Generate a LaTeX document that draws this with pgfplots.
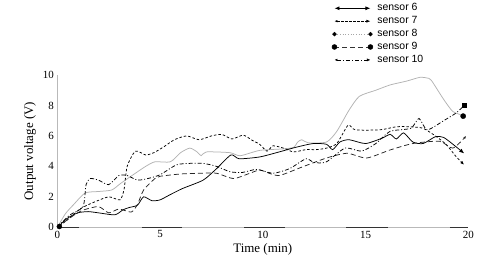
\documentclass[border=0pt]{standalone}
\usepackage{fontspec}
\setmainfont{Liberation Serif}
\setsansfont{Liberation Sans}
\usepackage{pgfplots}
\pgfplotsset{compat=1.18}
\usetikzlibrary{arrows.meta}
\begin{document}
\begin{tikzpicture}
\useasboundingbox (-57.3bp,-51.7bp) rectangle (422.7bp,227.3bp);
\begin{axis}[
  scale only axis, width=411bp, height=152.3bp,
  xmin=0, xmax=20, ymin=0, ymax=10,
  axis x line*=bottom, axis y line*=left,
  axis line style={gray!55, line width=0.6bp, -},
  xtick={0,5,10,15,20}, ytick={0,2,4,6,8,10},
  major tick length=0pt,
  tick label style={font=\fontsize{11}{12}\selectfont},
  /pgf/number format/assume math mode=true,
  xlabel={Time (min)}, ylabel={Output voltage (V)},
  label style={font=\fontsize{13}{15}\selectfont},
  xlabel style={yshift=2bp},
  clip=false,
  legend cell align=left,
  legend style={at={(rel axis cs:0.66,1.4925)}, anchor=north west, draw=none, fill=none,
    font=\sffamily\fontsize{10.5}{11}\selectfont, row sep=0.7bp,
    /tikz/every odd column/.append style={column sep=3bp},
    nodes={inner sep=1.2bp, text height=7.5bp, text depth=2.3bp}},
]
% legend
\addlegendimage{legend image code/.code={\draw[black, line width=0.8bp, {Latex[length=5bp,width=4bp]}-{Latex[length=5bp,width=4bp]}] (0bp,0bp) -- (36bp,0bp);}}
\addlegendentry{sensor 6}
\addlegendimage{legend image code/.code={\draw[black, line width=0.6bp, dash pattern=on 2.5bp off 1.5bp, {Latex[length=3bp,width=2.5bp]}-{Latex[length=4bp,width=3bp]}] (0bp,0bp) -- (36bp,0bp);}}
\addlegendentry{sensor 7}
\addlegendimage{legend image code/.code={\draw[gray!70, line width=0.7bp, dotted] (0bp,0bp) -- (36bp,0bp);
  \fill[black] (0bp,0bp) +(-2bp,0) -- +(0,2bp) -- +(2bp,0) -- +(0,-2bp) -- cycle;
  \fill[black] (36bp,0bp) +(-2bp,0) -- +(0,2bp) -- +(2bp,0) -- +(0,-2bp) -- cycle;}}
\addlegendentry{sensor 8}
\addlegendimage{legend image code/.code={\draw[black!80, line width=0.7bp, dash pattern=on 5bp off 3bp] (0bp,0bp) -- (36bp,0bp);
  \fill[black] (0bp,0bp) circle (2.5bp); \fill[black] (36bp,0bp) circle (2.5bp);}}
\addlegendentry{sensor 9}
\addlegendimage{legend image code/.code={\draw[black, line width=0.6bp, dash pattern=on 4bp off 2bp on 1bp off 2bp, {Latex[length=3bp,width=2.5bp]}-{Latex[length=3.5bp,width=3bp]}] (0bp,0bp) -- (36bp,0bp);}}
\addlegendentry{sensor 10}

% sensor 8 (gray)
\addplot[forget plot, gray!60, line width=0.75bp, smooth, tension=0.4] coordinates {
(0,0) (0.4,0.9) (0.8,1.5) (1.35,2.25) (2.0,2.35) (2.65,2.45) (3.1,2.9) (3.8,3.55) (4.3,4.0) (4.75,4.3) (5.5,4.3) (6.0,4.9) (6.45,5.2) (6.8,4.95) (7.0,4.7) (7.25,4.95) (8.4,4.9) (8.9,4.7) (9.85,5.05) (11.0,5.15) (11.5,5.25) (11.7,5.6) (11.9,5.75) (12.2,5.55) (13.1,5.6) (13.6,6.3) (14.2,7.7) (14.7,8.6) (15.5,9.0) (16.2,9.35) (17.0,9.6) (17.65,9.85) (18.0,9.8) (18.2,9.65) (18.8,8.4) (19.25,7.6) (19.75,7.35)};
\addplot[forget plot, only marks, mark=*, mark size=2.6bp, black] coordinates {(19.75,7.3)};

% sensor 6 (solid)
\addplot[forget plot, black, line width=0.75bp, smooth, tension=0.4, {Latex[length=4bp,width=3bp]}-{Latex[length=5bp,width=4bp]}] coordinates {
(0,0) (0.5,0.6) (1.0,0.95) (1.5,1.03) (2.0,0.95) (2.8,0.82) (3.2,1.15) (3.5,1.3) (3.9,1.45) (4.2,2.0) (4.6,1.75) (5.0,1.8) (5.5,2.15) (6.1,2.55) (7.1,3.1) (7.75,3.85) (8.45,4.75) (8.85,4.5) (9.85,4.62) (10.8,4.95) (11.6,5.25) (12.45,5.5) (13.1,5.45) (13.4,5.1) (13.75,5.6) (14.2,5.75) (15.0,5.5) (15.8,5.85) (16.2,6.1) (16.5,5.8) (16.85,6.2) (17.3,5.6) (17.8,5.5) (18.4,5.95) (18.8,5.9) (19.3,5.4) (19.8,4.85)};

% sensor 7 (short dashes)
\addplot[forget plot, black, line width=0.75bp, dash pattern=on 2.5bp off 2bp, smooth, tension=0.4, {Latex[length=3bp,width=2.5bp]}-{Latex[length=4bp,width=3bp]}] coordinates {
(0,0) (0.5,0.5) (1.1,1.2) (1.7,1.6) (2.5,2.0) (3.05,1.8) (3.25,2.5) (3.4,4.0) (3.8,5.0) (4.3,4.75) (4.7,4.9) (5.2,5.3) (5.7,5.75) (6.3,6.0) (6.9,5.75) (7.5,6.0) (8.0,6.1) (8.5,5.8) (9.05,6.05) (9.5,5.7) (9.85,5.45) (10.2,5.0) (10.5,5.35) (11.0,5.2) (11.5,4.95) (12.1,5.1) (12.6,5.1) (13.1,5.2) (13.6,5.5) (14.15,6.7) (14.5,6.4) (15.7,6.4) (16.5,6.6) (17.15,6.6) (17.8,6.5) (18.45,5.95) (18.95,5.4) (19.4,4.65) (19.8,4.1)};

% sensor 9 (long dashes)
\addplot[forget plot, black!85, line width=0.75bp, dash pattern=on 5bp off 3bp, smooth, tension=0.4, -{Latex[length=3bp,width=2.5bp]}] coordinates {
(0,0) (0.6,0.6) (1.2,1.1) (2.0,1.36) (2.5,0.95) (3.0,1.2) (3.6,1.0) (3.9,1.5) (4.2,2.45) (4.75,3.2) (5.0,3.35) (6.0,3.5) (6.94,3.55) (7.75,3.55) (8.57,3.2) (9.37,3.55) (9.85,3.77) (10.2,3.6) (10.8,3.4) (11.8,3.9) (13.1,4.55) (14.1,4.86) (15.05,4.55) (16.2,5.08) (17.3,5.5) (18.6,5.65) (19.25,5.2) (19.9,6.0)};

% sensor 10 (dash-dot)
\addplot[forget plot, black, line width=0.75bp, dash pattern=on 4bp off 2bp on 1bp off 2bp, smooth, tension=0.4] coordinates {
(0,0) (0.6,0.8) (1.25,1.35) (1.4,2.8) (1.6,3.2) (2.0,3.1) (2.5,2.8) (3.0,3.4) (3.4,3.4) (3.9,3.1) (4.4,3.2) (5.0,3.45) (5.8,4.1) (6.5,4.2) (7.1,4.2) (7.75,4.0) (8.4,3.65) (9.0,3.6) (9.7,3.8) (10.5,3.55) (11.3,3.85) (12.1,4.5) (12.5,4.25) (13.1,4.3) (14.0,5.2) (14.8,5.0) (15.5,5.5) (16.2,6.3) (17.2,6.5) (17.6,7.15) (18.0,6.4) (18.8,7.0) (19.4,7.5) (19.8,8.0)};
\addplot[forget plot, only marks, mark=square*, mark size=2bp, black] coordinates {(19.8,8.0)};
% start blob
\addplot[forget plot, only marks, mark=*, mark size=2.5bp, black] coordinates {(0.1,0.05)};

% dark segments on x axis line
\draw[black!80, line width=1.3bp] (axis cs:0,0) -- (axis cs:1.05,0);
\draw[black!80, line width=1.3bp] (axis cs:4.1,0) -- (axis cs:6.05,0);
\draw[black!80, line width=1.3bp] (axis cs:9.1,0) -- (axis cs:11.07,0);
\draw[black!80, line width=1.3bp] (axis cs:14.07,0) -- (axis cs:16.1,0);
\draw[black!80, line width=1.3bp] (axis cs:19.1,0) -- (axis cs:20,0);
\end{axis}
\end{tikzpicture}
\end{document}
